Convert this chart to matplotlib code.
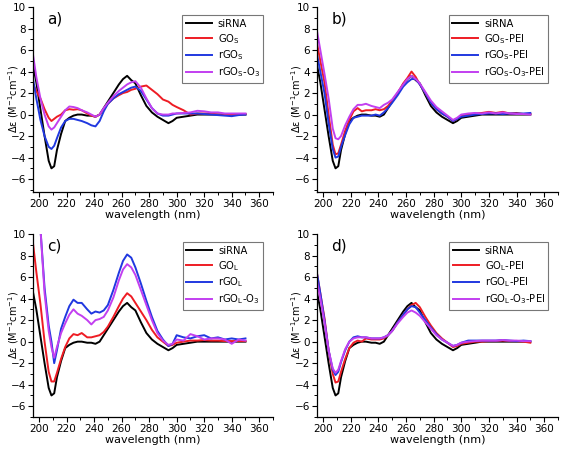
import matplotlib
matplotlib.use("Agg")
import matplotlib.pyplot as plt
from matplotlib.ticker import MultipleLocator

wl = [195, 198, 201, 204, 207, 209, 211, 213, 216, 219, 222, 225, 228, 231, 235, 238, 241, 244, 247, 250,
      254, 258, 261, 264, 267, 270, 274, 278, 282, 286, 290, 294, 297, 300, 305, 310, 315, 320, 325, 330,
      335, 340, 345, 350]

sirna = [5.0, 3.0, 0.5, -2.0, -4.3, -5.0, -4.8, -3.3, -1.8, -0.6, -0.3, -0.1, 0.0, 0.0, -0.1, -0.1, -0.2, 0.0, 0.6, 1.2,
         2.0, 2.8, 3.3, 3.6, 3.2, 2.9, 1.8, 0.8, 0.2, -0.2, -0.5, -0.8, -0.6, -0.3, -0.2, -0.1, 0.0, 0.0, 0.0, 0.0,
         0.0, 0.0, 0.0, 0.0]

# panel a
go_s = [3.0, 2.2, 1.5, 0.5, -0.3, -0.6, -0.4, -0.2, 0.0, 0.4, 0.5, 0.45, 0.5, 0.4, 0.1, -0.1, -0.2, 0.0, 0.5, 1.0,
        1.5, 1.8, 2.0, 2.1, 2.3, 2.4, 2.6, 2.7, 2.3, 1.9, 1.4, 1.2, 0.9, 0.7, 0.4, 0.0, 0.1, 0.1, 0.1, 0.0,
        0.0, 0.0, 0.0, 0.05]
rgo_s = [3.8, 1.5, -0.5, -2.0, -3.0, -3.2, -2.9, -2.2, -1.2, -0.6, -0.4, -0.4, -0.5, -0.6, -0.8, -1.0, -1.1, -0.6, 0.3, 1.0,
         1.5, 1.9, 2.1, 2.3, 2.5, 2.6, 2.2, 1.4, 0.6, 0.1, -0.1, -0.1, 0.0, 0.1, 0.1, 0.1, 0.1, 0.05, 0.0, -0.05,
         -0.1, -0.15, -0.05, 0.0]
rgo_s_o3 = [6.1, 3.5, 1.5, 0.0, -1.1, -1.4, -1.2, -0.8, -0.2, 0.4, 0.75, 0.7, 0.6, 0.4, 0.2, 0.0, -0.2, 0.0, 0.6, 1.1,
            1.7, 2.2, 2.5, 2.8, 3.0, 3.1, 2.5, 1.5, 0.6, 0.1, 0.0, 0.0, 0.1, 0.1, 0.15, 0.2, 0.35, 0.3, 0.2, 0.2,
            0.1, 0.1, 0.1, 0.1]

# panel b
go_s_pei = [7.0, 5.0, 3.0, 0.0, -2.8, -3.7, -3.6, -2.8, -1.5, -0.5, 0.3, 0.6, 0.3, 0.4, 0.4, 0.5, 0.4, 0.5, 0.8, 1.3,
            2.0, 2.9, 3.4, 4.0, 3.5, 2.8, 2.0, 1.1, 0.5, 0.1, -0.2, -0.6, -0.4, -0.1, 0.0, 0.1, 0.15, 0.25, 0.15, 0.25,
            0.1, 0.15, 0.05, 0.05]
rgo_s_pei = [6.0, 4.0, 2.0, -0.8, -3.2, -4.0, -3.9, -3.0, -1.9, -0.9, -0.3, -0.2, -0.1, -0.1, -0.1, 0.0, -0.1, 0.2, 0.6, 1.1,
             1.8, 2.6, 3.0, 3.3, 3.3, 2.8, 2.0, 1.1, 0.5, 0.1, -0.2, -0.6, -0.4, -0.2, -0.1, 0.0, 0.05, 0.1, 0.1, 0.05,
             0.1, 0.1, 0.1, 0.15]
rgo_s_o3_pei = [8.2, 6.0, 3.8, 1.5, -1.3, -2.2, -2.3, -2.0, -1.0, -0.2, 0.5, 0.9, 0.9, 1.0, 0.8, 0.7, 0.6, 0.9, 1.1, 1.4,
                2.1, 2.8, 3.3, 3.6, 3.3, 2.9, 2.1, 1.3, 0.7, 0.3, -0.1, -0.5, -0.3, 0.0, 0.1, 0.15, 0.1, 0.2, 0.1, 0.2,
                0.1, 0.05, 0.05, 0.0]

# panel c
go_l = [9.8, 6.5, 3.5, 0.0, -2.8, -3.7, -3.7, -2.9, -1.6, -0.5, 0.3, 0.7, 0.6, 0.8, 0.4, 0.4, 0.5, 0.6, 0.9, 1.4,
        2.3, 3.3, 4.0, 4.5, 4.2, 3.6, 2.8, 2.0, 1.1, 0.4, 0.0, -0.4, -0.3, -0.1, 0.0, 0.1, 0.1, 0.15, 0.1, 0.1,
        0.05, 0.05, 0.05, 0.05]
rgo_l = [18.0, 14.0, 10.5, 5.0, 1.5, 0.0, -2.0, -0.8, 1.2, 2.3, 3.3, 3.9, 3.6, 3.6, 3.0, 2.6, 2.8, 2.7, 2.9, 3.4,
         4.8, 6.4, 7.5, 8.1, 7.8, 6.9, 5.4, 3.8, 2.3, 1.0, 0.2, -0.4, -0.2, 0.6, 0.4, 0.3, 0.5, 0.6, 0.3, 0.4,
         0.2, 0.3, 0.2, 0.3]
rgo_l_o3 = [18.0, 14.0, 10.5, 4.5, 1.0, -0.5, -1.5, -0.5, 0.8, 1.7, 2.5, 3.0, 2.6, 2.4, 2.0, 1.6, 2.0, 2.1, 2.3, 2.9,
            4.1, 5.7, 6.7, 7.2, 6.9, 6.2, 4.8, 3.4, 2.0, 0.8, 0.1, -0.3, -0.2, 0.2, 0.1, 0.7, 0.5, 0.2, 0.3, 0.3,
            0.2, -0.2, 0.2, 0.1]

# panel d
go_l_pei = [6.8, 4.5, 2.2, -0.8, -3.0, -3.8, -3.7, -2.8, -1.6, -0.6, -0.1, 0.1, 0.0, 0.3, 0.2, 0.2, 0.2, 0.3, 0.6, 1.0,
            1.8, 2.5, 3.0, 3.4, 3.6, 3.2, 2.3, 1.5, 0.8, 0.3, -0.1, -0.5, -0.4, -0.2, -0.1, 0.0, 0.0, 0.05, 0.05, 0.1,
            0.05, 0.05, 0.0, -0.1]
rgo_l_pei = [6.8, 4.5, 2.0, -0.8, -2.6, -3.1, -2.8, -1.9, -0.8, 0.0, 0.4, 0.5, 0.4, 0.4, 0.3, 0.3, 0.3, 0.4, 0.6, 1.0,
             1.8, 2.5, 3.0, 3.3, 3.2, 2.7, 2.0, 1.3, 0.7, 0.2, -0.1, -0.4, -0.3, -0.1, 0.1, 0.1, 0.1, 0.1, 0.1, 0.15,
             0.1, 0.05, 0.1, 0.05]
rgo_l_o3_pei = [6.0, 4.0, 1.8, -0.8, -2.5, -2.9, -2.6, -1.8, -0.7, 0.0, 0.3, 0.4, 0.4, 0.4, 0.3, 0.3, 0.3, 0.4, 0.6, 1.0,
                1.7, 2.3, 2.7, 2.9, 2.7, 2.4, 1.8, 1.2, 0.6, 0.2, -0.1, -0.4, -0.3, -0.1, 0.0, 0.05, 0.1, 0.1, 0.1, 0.15,
                0.1, 0.1, 0.05, 0.05]

labels_a = ['siRNA', r'GO$_\mathregular{S}$', r'rGO$_\mathregular{S}$', r'rGO$_\mathregular{S}$-O$_\mathregular{3}$']
labels_b = ['siRNA', r'GO$_\mathregular{S}$-PEI', r'rGO$_\mathregular{S}$-PEI', r'rGO$_\mathregular{S}$-O$_\mathregular{3}$-PEI']
labels_c = ['siRNA', r'GO$_\mathregular{L}$', r'rGO$_\mathregular{L}$', r'rGO$_\mathregular{L}$-O$_\mathregular{3}$']
labels_d = ['siRNA', r'GO$_\mathregular{L}$-PEI', r'rGO$_\mathregular{L}$-PEI', r'rGO$_\mathregular{L}$-O$_\mathregular{3}$-PEI']

colors = ['#000000', '#ee1c24', '#2038e0', '#c23ff0']

W, H = 567, 453
fig = plt.figure(figsize=(W / 100, H / 100), dpi=100)
plt.rcParams['mathtext.default'] = 'regular'

panels = [
    ('a)', [33, 273, 7, 192], -7.2, [sirna, go_s, rgo_s, rgo_s_o3], labels_a),
    ('b)', [317, 558, 7, 192], -7.2, [sirna, go_s_pei, rgo_s_pei, rgo_s_o3_pei], labels_b),
    ('c)', [33, 273, 234, 417], -7.0, [sirna, go_l, rgo_l, rgo_l_o3], labels_c),
    ('d)', [317, 558, 234, 417], -7.0, [sirna, go_l_pei, rgo_l_pei, rgo_l_o3_pei], labels_d),
]

for tag, (l, r, t, b), ymin, series, labels in panels:
    ax = fig.add_axes([l / W, 1 - b / H, (r - l) / W, (b - t) / H])
    for ys, c, lab in zip(series, colors, labels):
        ax.plot(wl, ys, color=c, lw=1.4, label=lab)
    ax.set_xlim(195.6, 370)
    ax.set_ylim(ymin, 10)
    ax.set_xticks(range(200, 361, 20))
    ax.set_yticks(range(-6, 11, 2))
    ax.xaxis.set_minor_locator(MultipleLocator(10))
    ax.yaxis.set_minor_locator(MultipleLocator(1))
    ax.spines['top'].set_visible(False)
    ax.spines['right'].set_visible(False)
    for sp in ('left', 'bottom'):
        ax.spines[sp].set_linewidth(0.9)
    ax.tick_params(which='major', direction='out', length=3.5, width=0.8, labelsize=7.5, pad=1.5)
    ax.tick_params(which='minor', direction='out', length=2, width=0.7)
    ax.set_xlabel('wavelength (nm)', fontsize=8, labelpad=1)
    ax.set_ylabel(r'$\Delta\varepsilon$ (M$^{-1}$cm$^{-1}$)', fontsize=7)
    ax.yaxis.set_label_coords(-0.052, 0.5)
    ax.text(0.06, 0.975, tag, transform=ax.transAxes, fontsize=11, va='top', ha='left')
    leg = ax.legend(loc='upper right', bbox_to_anchor=(0.96, 0.955), fontsize=7.2, frameon=True,
                    fancybox=False, edgecolor='#555555', handlelength=2.6, handletextpad=0.6,
                    labelspacing=0.3, borderpad=0.35, borderaxespad=0)
    leg.get_frame().set_linewidth(0.8)

fig.savefig('out.png', dpi=100)
